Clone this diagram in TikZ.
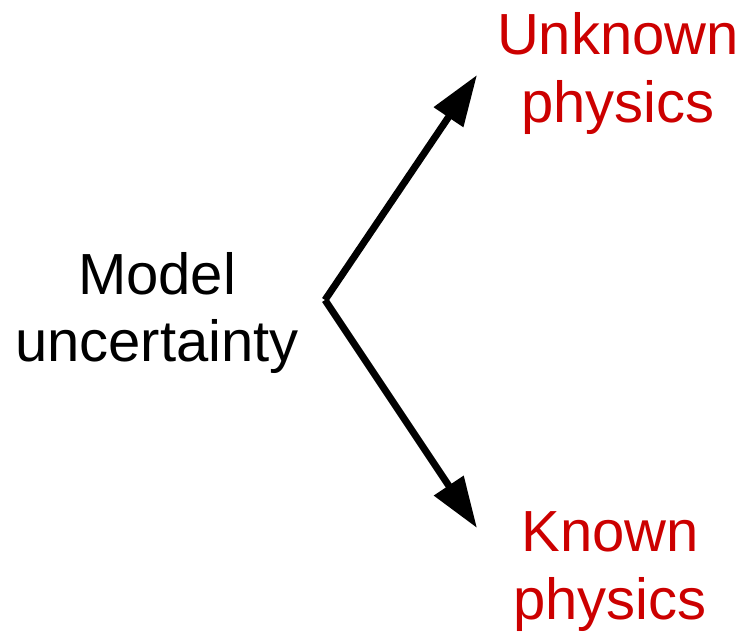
\documentclass[tikz,border=0pt]{standalone}
\usepackage{fontspec}
\setmainfont{Liberation Sans}
\usetikzlibrary{arrows.meta}
\definecolor{darkred}{HTML}{CC0000}
\tikzset{
    label text/.style={align=center, inner sep=0pt, font=\fontsize{58}{68}\selectfont},
    branch/.style={line width=7pt, -{Triangle[length=51pt,width=34pt]}}
}
\begin{document}
\begin{tikzpicture}[x=1pt, y=-1pt]
            \useasboundingbox (0, 0) rectangle (745, 632);
            \node (model) at (157, 313) [label text] {Model\\uncertainty};
            \node (unknown) at (618, 74) [label text, text=darkred] {Unknown\\physics};
            \node (known) at (610, 572) [label text, text=darkred] {Known\\physics};
            \coordinate (fork) at (325, 300);
            \coordinate (uptip) at (477, 75);
            \coordinate (downtip) at (477, 528);
            \draw[branch] (fork) -- (uptip);
            \draw[branch] (fork) -- (downtip);
        \end{tikzpicture}
\end{document}
